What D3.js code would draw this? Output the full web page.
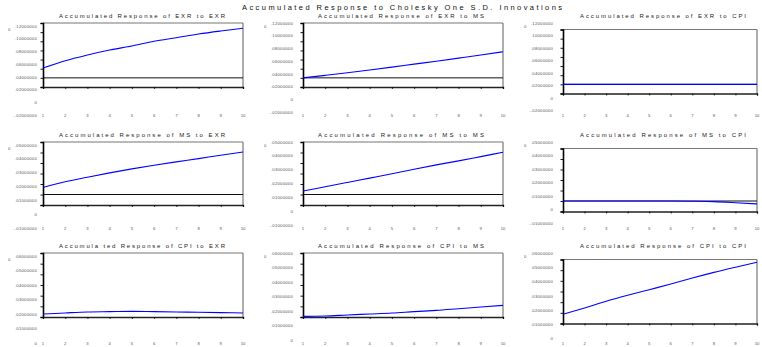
<!DOCTYPE html>
<html><head><meta charset="utf-8">
<script src="https://cdn.jsdelivr.net/npm/d3@7"></script>
<style>body{margin:0;background:#fff}svg{display:block}</style>
</head><body><svg id="c" width="762" height="347"></svg>
<script>
const mainTitle = "Accumulated Response to Cholesky One S.D. Innovations";
const periods = [1,2,3,4,5,6,7,8,9,10];
const titles = [
  ["Accumulated Response of EXR to EXR","Accumulated Response of EXR to MS","Accumulated Response of EXR to CPI"],
  ["Accumulated Response of MS to EXR","Accumulated Response of MS to MS","Accumulated Response of MS to CPI"],
  ["Accumula ted Response of CPI to EXR","Accumulated Response of CPI to MS","Accumulated Response of CPI to CPI"]
];
const exrExr = [0.0216,0.0375,0.0500,0.0609,0.0697,0.0800,0.0878,0.0959,0.1025,0.1084];
const exrMs  = [0.0000,0.0055,0.0112,0.0172,0.0235,0.0300,0.0365,0.0432,0.0500,0.0572];
const exrCpi = [0,0,0,0,0,0,0,0,0,0];
const msExr  = [0.0067,0.0121,0.0165,0.0206,0.0244,0.0279,0.0311,0.0342,0.0374,0.0405];
const msMs   = [0.0033,0.0074,0.0115,0.0156,0.0197,0.0241,0.0282,0.0320,0.0361,0.0402];
const msCpi  = [0,0,0,0,0,0,-0.0002,-0.0006,-0.0016,-0.0028];
const cpiExr = [0.0028,0.0038,0.0047,0.0050,0.0053,0.0050,0.0047,0.0044,0.0041,0.0038];
const cpiMs  = [0.0006,0.0009,0.0019,0.0028,0.0037,0.0050,0.0062,0.0078,0.0094,0.0109];
const cpiCpi = [0.0087,0.0146,0.0208,0.0264,0.0317,0.0370,0.0426,0.0479,0.0528,0.0575];
const rowDomains = [[-0.02,0.12],[-0.01,0.05],[0,0.06]];
const rowTickStep = [0.02,0.01,0.01];
const rowTickLabels = [
  [".12000000",".10000000",".08000000",".06000000",".04000000",".02000000","0","-.02000000"],
  [".05000000",".04000000",".03000000",".02000000",".01000000","0","-.01000000"],
  [".06000000",".05000000",".04000000",".03000000",".02000000",".01000000","0"]
];
const grid = [[exrExr,exrMs,exrCpi],[msExr,msMs,msCpi],[cpiExr,cpiMs,cpiCpi]];

// layout
const colX = [[43,243],[303,503],[563,757]];
const rowBox = [[23,87],[142,205],[253,317]];
const col2Shift = 6.5;
const rowTitleY = [17.5,137,248];
const rowXLabY = [117,229.5,345];
const titleCX = [142,401,663];
const labRight = [37,293,553];
const labRange = [[3,0],[0,-3],[-6,-5]];

const svg = d3.select("#c");
const font = "'Liberation Sans', Arial, sans-serif";

svg.append("text").attr("x",402).attr("y",10).attr("text-anchor","middle")
  .attr("font-family",font).attr("font-size",7.5).attr("fill","#111")
  .attr("textLength",320).attr("lengthAdjust","spacing").text(mainTitle);

for (let r=0;r<3;r++){
  for (let c=0;c<3;c++){
    const [x0,x1] = colX[c];
    const sh = c===2 ? col2Shift : 0;
    const top = rowBox[r][0]+sh, bot = rowBox[r][1]+sh;
    const g = svg.append("g");
    const x = d3.scaleLinear().domain([1,10]).range([x0,x1]);
    const y = d3.scaleLinear().domain(rowDomains[r]).range([bot,top]);
    const dom = rowDomains[r];
    const nT = Math.round((dom[1]-dom[0])/rowTickStep[r]);
    const tv = d3.range(nT+1).map(i=>dom[0]+i*rowTickStep[r]);

    g.append("text").attr("x",titleCX[c]).attr("y",rowTitleY[r]).attr("text-anchor","middle")
      .attr("font-family",font).attr("font-size",6).attr("fill","#222")
      .attr("textLength",166).attr("lengthAdjust","spacing").text(titles[r][c]);

    g.append("line").attr("x1",x0).attr("x2",x1).attr("y1",top).attr("y2",top)
      .attr("stroke","#777").attr("stroke-width",1.2);
    g.append("line").attr("x1",x1).attr("x2",x1).attr("y1",top).attr("y2",bot)
      .attr("stroke","#777").attr("stroke-width",1.2);

    if (dom[0] < 0) {
      g.append("line").attr("x1",x0).attr("x2",x1).attr("y1",y(0)).attr("y2",y(0))
        .attr("stroke","#111").attr("stroke-width",1);
    }

    const ya = d3.axisLeft(y).tickValues(tv).tickSize(2.5).tickFormat("");
    const ga = g.append("g").attr("transform",`translate(${x0},0)`).call(ya);
    ga.select(".domain").attr("stroke","#000").attr("stroke-width",1.6);
    ga.selectAll(".tick line").attr("stroke","#000").attr("stroke-width",0.9);
    const xa = d3.axisBottom(x).tickValues(periods).tickSize(2).tickFormat("");
    const gb = g.append("g").attr("transform",`translate(0,${bot})`).call(xa);
    gb.select(".domain").attr("stroke","#222").attr("stroke-width",1.3);
    gb.selectAll(".tick line").attr("stroke","#000").attr("stroke-width",0.8);

    g.selectAll(".xl").data(periods).join("text")
      .attr("x",d=>x(d)).attr("y",rowXLabY[r]).attr("text-anchor","middle")
      .attr("font-family",font).attr("font-size",4.2).attr("fill","#555").text(d=>d);

    const labs = rowTickLabels[r];
    const ly0 = top + labRange[c][0] + 1.5, ly1 = rowXLabY[r] + labRange[c][1];
    const ls = d3.scaleLinear().domain([0,labs.length-1]).range([ly0,ly1]);
    labs.forEach((t,i)=>{
      g.append("text").attr("x",labRight[c]).attr("y",ls(i)).attr("text-anchor","end")
        .attr("font-family",font).attr("font-size",4.2).attr("fill","#555")
        .attr("letter-spacing",0.25).text(t);
    });
    g.append("text").attr("x",labRight[c]-29).attr("y",ls(0)+3).attr("text-anchor","start")
      .attr("font-family",font).attr("font-size",4.2).attr("fill","#555").text("0");

    const line = d3.line().x((d,i)=>x(periods[i])).y(d=>y(d)).curve(d3.curveMonotoneX);
    g.append("path").datum(grid[r][c]).attr("d",line).attr("fill","none")
      .attr("stroke","#0000ff").attr("stroke-width",1.1);
  }
}
</script></body></html>
